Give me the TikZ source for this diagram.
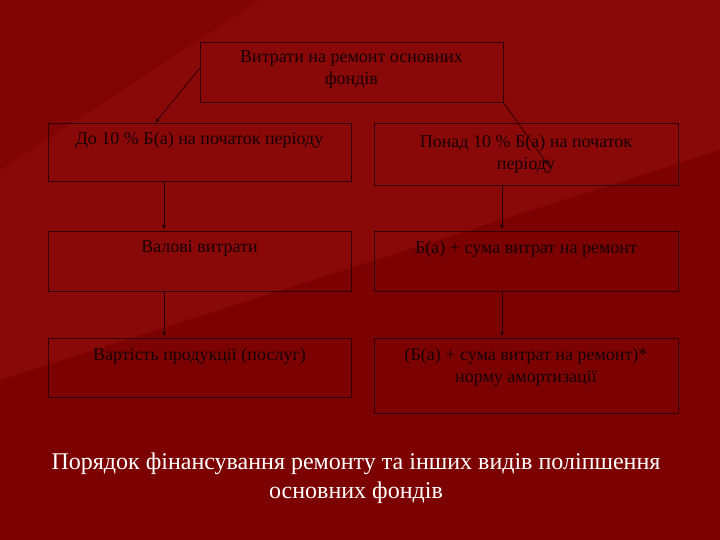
\documentclass[tikz,border=0pt]{standalone}
\usepackage{fontspec}
\setmainfont{Liberation Serif}
\begin{document}
\begin{tikzpicture}[x=1pt,y=-1pt,
  bx/.style={draw=black!80!red, line width=0.7pt, fill=none},
  tx/.style={text=black!90!red, font=\fontsize{18}{22}\selectfont, align=center, anchor=north},
  arr/.style={-latex, line width=0.7pt, draw=black!85!red}]
\definecolor{bgred}{HTML}{7C0202}
\definecolor{bglight}{HTML}{890808}
\fill[bgred] (0,0) rectangle (720,540);
\fill[bglight] (0,0) -- (720,0) -- (720,150) -- (0,380) -- cycle;
\fill[bgred!60!bglight] (0,0) -- (260,0) -- (0,170) -- cycle;
\useasboundingbox (0,0) rectangle (720,540);
% boxes
\draw[bx] (200,42) rectangle (503,102);
\node[tx] (tt) at (351.5,47) {Витрати на ремонт основних\\фондів};
\draw[bx] (48,123) rectangle (351,181);
\node[tx] (l1) at (199.5,128) {До 10 \% Б(а) на початок періоду};
\draw[bx] (374,123) rectangle (678,185);
\node[tx] (r1) at (526,131) {Понад 10 \% Б(а) на початок\\періоду};
\draw[bx] (48,231) rectangle (351,291);
\node[tx] (l2) at (199.5,237) {Валові витрати};
\draw[bx] (374,231) rectangle (678,291);
\node[tx] (r2) at (526,237) {Б(а) + сума витрат на ремонт};
\draw[bx] (48,338) rectangle (351,397);
\node[tx] (l3) at (199.5,344) {Вартість продукції (послуг)};
\draw[bx] (374,338) rectangle (678,413);
\node[tx] (r3) at (526,344) {(Б(а) + сума витрат на ремонт)*\\норму амортизації};
% arrows
\coordinate (a1) at (200,68); \coordinate (a2) at (155,123);
\coordinate (b1) at (503,102); \coordinate (b2) at (548,165);
\draw[arr] (a1) -- (a2);
\draw[arr] (b1) -- (b2);
\coordinate (c1) at (164,181); \coordinate (c2) at (164,230);
\coordinate (c3) at (164,291); \coordinate (c4) at (164,337);
\coordinate (d1) at (502,185); \coordinate (d2) at (502,230);
\coordinate (d3) at (502,291); \coordinate (d4) at (502,337);
\draw[arr] (c1) -- (c2); \draw[arr] (c3) -- (c4);
\draw[arr] (d1) -- (d2); \draw[arr] (d3) -- (d4);
\node[text=white, font=\fontsize{24}{29}\selectfont, align=center] (cap) at (356,478)
  {Порядок фінансування ремонту та інших видів поліпшення\\основних фондів};
\end{tikzpicture}
\end{document}
